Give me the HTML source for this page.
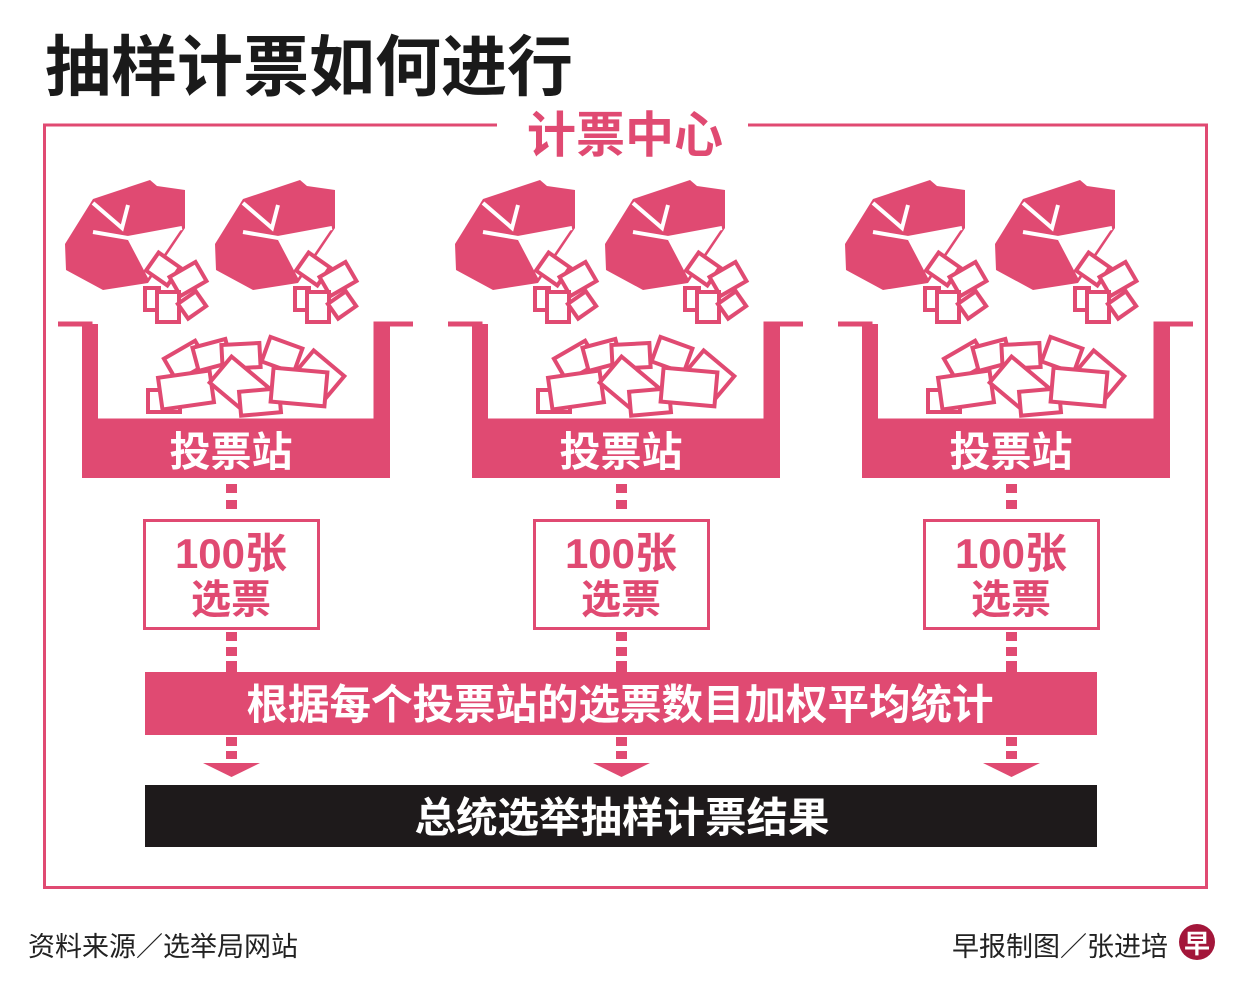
<!DOCTYPE html>
<html><head><meta charset="utf-8"><style>
html,body{margin:0;padding:0;background:#fff;}
svg{display:block;}
text{font-family:"Liberation Sans","Noto Sans CJK SC",sans-serif;font-weight:bold;}
</style></head><body>
<svg width="1251" height="999" viewBox="0 0 1251 999" xmlns="http://www.w3.org/2000/svg">
<defs>
<g id="box">
  <polygon points="0,66 28,21 85,2 92,8 120,12 120,50 83,105 38,112 1,92" fill="#e04a72"/>
  <polygon points="63,62 117,50 83,100" fill="#fff"/>
  <polyline points="28,25 57,50 63,27" fill="none" stroke="#fff" stroke-width="4"/>
  <polyline points="28,54 63,60 117,50" fill="none" stroke="#fff" stroke-width="4"/>
  <g fill="#fff" stroke="#e04a72" stroke-width="4">
    <rect x="85" y="80" width="26" height="22" transform="rotate(35 98 91)"/>
    <rect x="108" y="90" width="30" height="22" transform="rotate(-30 123 101)"/>
    <rect x="80" y="110" width="14" height="22"/>
    <rect x="92" y="114" width="22" height="30"/>
    <rect x="116" y="118" width="22" height="18" transform="rotate(-35 127 127)"/>
  </g>
</g>
<g id="station">
  <use href="#box" x="65" y="178"/>
  <use href="#box" x="215" y="178"/>
  <path d="M58,324 H90 V421 H376 V324 H413" fill="none" stroke="#e04a72" stroke-width="5"/>
  <rect x="82" y="324" width="16" height="154" fill="#e04a72"/>
  <rect x="375" y="324" width="15" height="154" fill="#e04a72"/>
  <rect x="82" y="421" width="308" height="57" fill="#e04a72"/>
  <g fill="#fff" stroke="#e04a72" stroke-width="4">
    <rect x="168" y="348" width="36" height="26" transform="rotate(-30 186 361)"/>
    <rect x="195" y="343" width="34" height="24" transform="rotate(-15 212 355)"/>
    <rect x="222" y="344" width="38" height="24" transform="rotate(-3 241 356)"/>
    <rect x="265" y="342" width="34" height="26" transform="rotate(20 282 355)"/>
    <rect x="300" y="360" width="40" height="28" transform="rotate(40 320 374)"/>
    <rect x="148" y="390" width="32" height="22"/>
    <rect x="160" y="374" width="52" height="32" transform="rotate(-8 186 390)"/>
    <rect x="215" y="368" width="48" height="34" transform="rotate(40 239 385)"/>
    <rect x="240" y="390" width="40" height="24" transform="rotate(-5 260 402)"/>
    <rect x="272" y="370" width="54" height="34" transform="rotate(5 299 387)"/>
  </g>
  <text x="231" y="466" font-size="41" fill="#fff" text-anchor="middle">投票站</text>
  <g fill="#e04a72">
    <rect x="226" y="484" width="11" height="9"/>
    <rect x="226" y="500" width="11" height="9"/>
    <rect x="226" y="632" width="11" height="9"/>
    <rect x="226" y="647" width="11" height="9"/>
    <rect x="226" y="661" width="11" height="11"/>
    <rect x="226" y="737" width="11" height="9"/>
    <rect x="226" y="751" width="11" height="8"/>
    <polygon points="203,763 260,763 231.5,777"/>
  </g>
  <rect x="144.5" y="520.5" width="174" height="108" fill="#fff" stroke="#e04a72" stroke-width="3"/>
  <text x="231" y="568" font-size="42" fill="#e04a72" text-anchor="middle">100张</text>
  <text x="231" y="613" font-size="40" fill="#e04a72" text-anchor="middle">选票</text>
</g>
</defs>
<text x="45" y="90" font-size="66" fill="#1a1a1a">抽样计票如何进行</text>
<path d="M497,125 H44.5 V887.5 H1206.5 V125 H748" fill="none" stroke="#e04a72" stroke-width="3"/>
<text x="625" y="152" font-size="49" fill="#e04a72" text-anchor="middle">计票中心</text>
<use href="#station" x="0" y="0"/>
<use href="#station" x="390" y="0"/>
<use href="#station" x="780" y="0"/>
<rect x="145" y="672" width="952" height="63" fill="#e04a72"/>
<text x="620" y="719" font-size="41.5" fill="#fff" text-anchor="middle">根据每个投票站的选票数目加权平均统计</text>
<rect x="145" y="785" width="952" height="62" fill="#1e1a1b"/>
<text x="622" y="832" font-size="41.5" fill="#fff" text-anchor="middle">总统选举抽样计票结果</text>
<text x="28" y="956" font-size="27" fill="#222" style="font-weight:normal">资料来源／选举局网站</text>
<text x="952" y="956" font-size="27" fill="#222" style="font-weight:normal">早报制图／张进培</text>
<circle cx="1197" cy="942" r="18" fill="#a3163a"/>
<text x="1197" y="953" font-size="26" fill="#fff" text-anchor="middle">早</text>
</svg>
</body></html>
